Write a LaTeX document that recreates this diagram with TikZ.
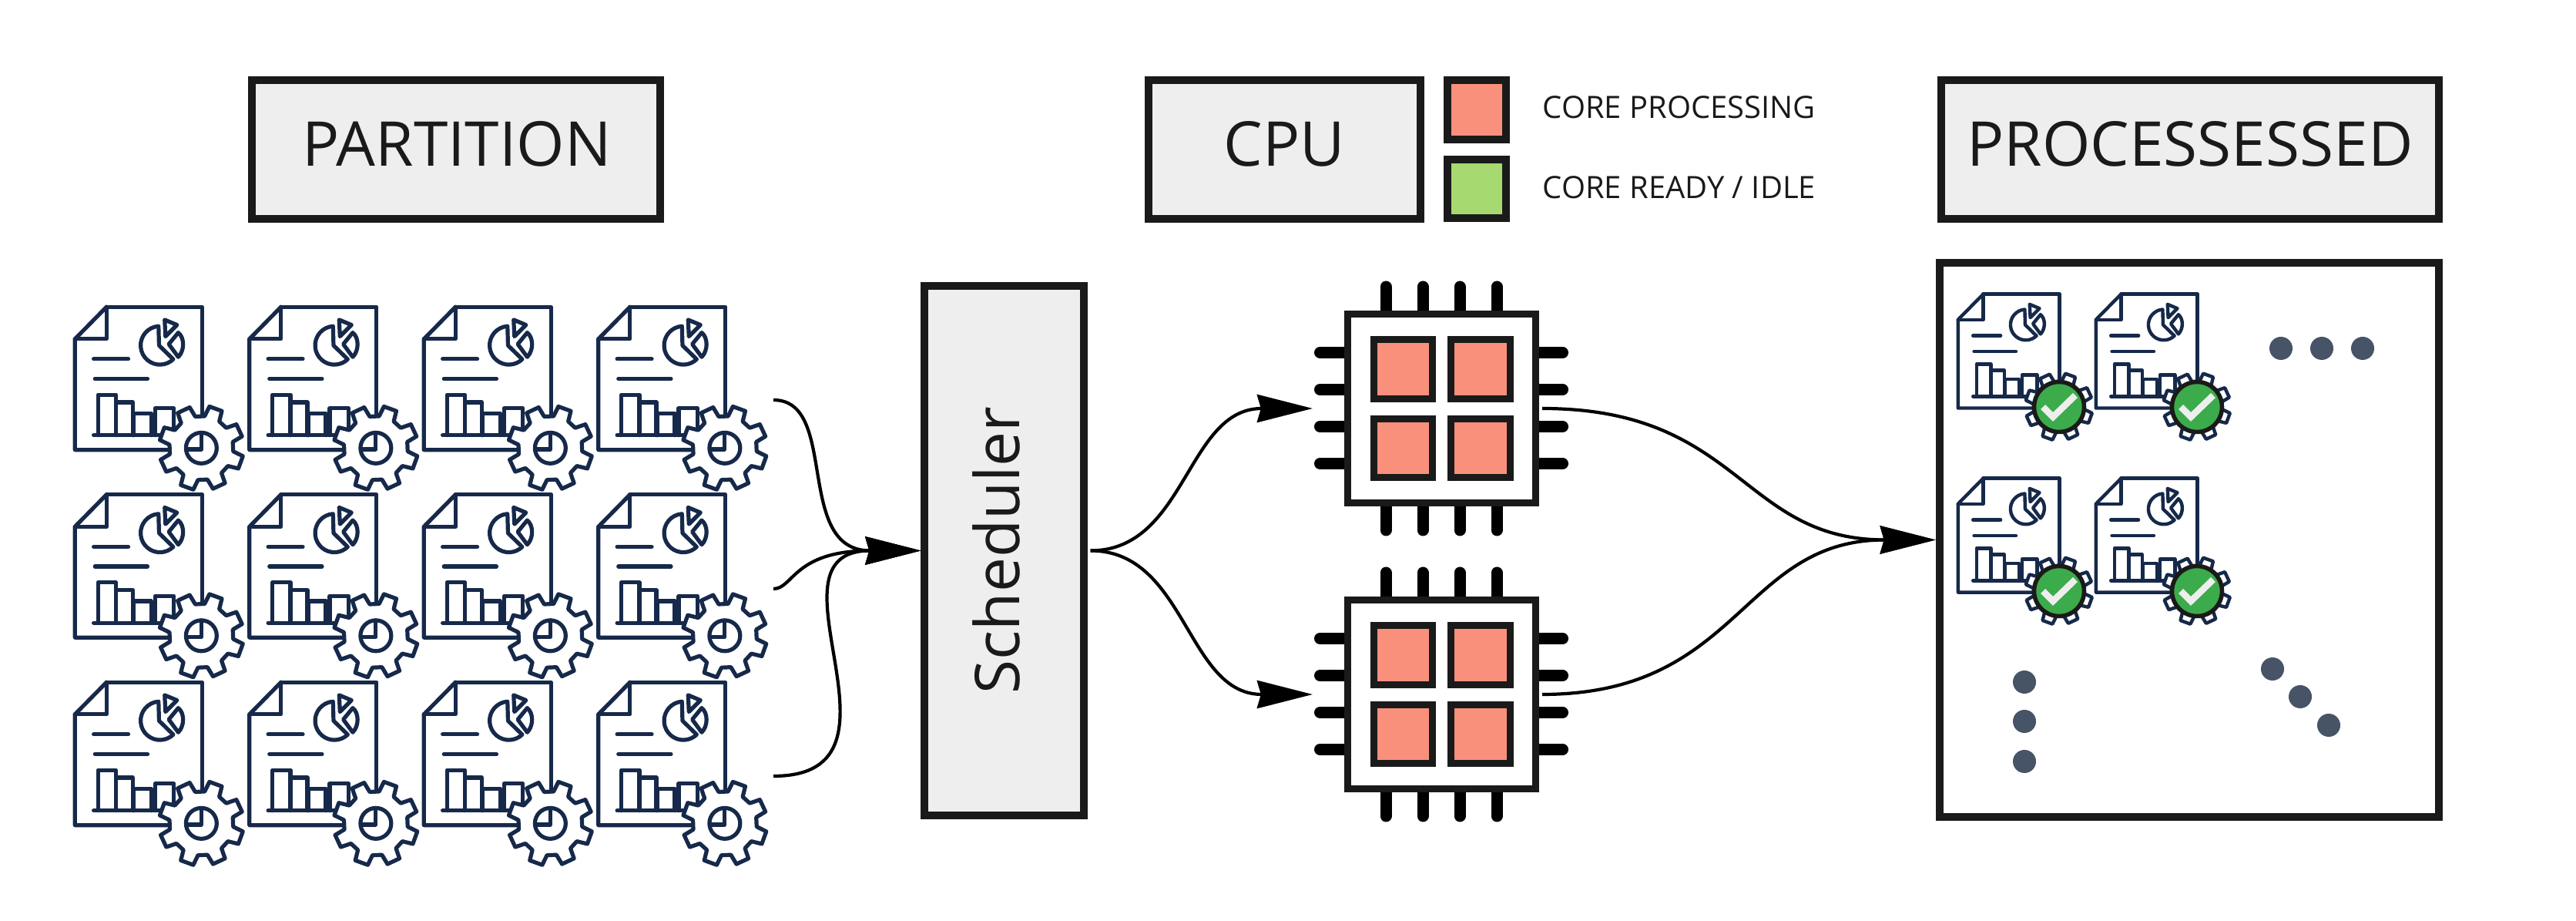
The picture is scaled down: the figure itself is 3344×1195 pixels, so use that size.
\documentclass[tikz,border=0pt]{standalone}
\usepackage{fontspec}
\setmainfont{Open Sans}
\usetikzlibrary{arrows.meta,calc}
\definecolor{inkc}{HTML}{1A1A1A}
\definecolor{navy}{HTML}{16294A}
\definecolor{boxgray}{HTML}{EEEEEE}
\definecolor{corered}{HTML}{F9907C}
\definecolor{coregreen}{HTML}{A6D96F}
\definecolor{checkgreen}{HTML}{3CAB4B}
\definecolor{dotc}{HTML}{475467}
\tikzset{
  heavybox/.style={draw=inkc,line width=0.1cm,inner sep=0pt,fill=boxgray},
  titlefont/.style={font=\fontsize{22.8}{27}\selectfont,text=inkc},
  legendfont/.style={font=\fontsize{11.35}{14}\selectfont,text=inkc},
  chipbody/.style={draw=inkc,line width=0.09cm,fill=white,inner sep=0pt,minimum width=2.44cm,minimum height=2.45cm},
  corebox/.style={draw=inkc,line width=0.09cm,fill=corered,inner sep=0pt,minimum size=0.76cm},
  pin/.style={line width=0.15cm,line cap=round,black},
  flow/.style={line width=0.042cm,black,-{Stealth[length=0.72cm,width=0.36cm,inset=0.05cm]}},
  dotmark/.style={circle,fill=dotc,inner sep=0pt,minimum size=0.3cm},
  iconline/.style={draw=navy,line join=round,line cap=round},
}
% doc icon: x y unit(cm) linewidth(cm)
\newcommand{\docicon}[5]{%
\begin{scope}[shift={(#1,#2)},x=#3cm,y=-#3cm,iconline,line width=#4cm]
  \draw (175,55)--(548,55)--(548,480);
  \draw (420,612)--(52,612)--(52,180)--(175,55);
  \draw (175,55)--(175,180)--(52,180);
  \draw (125,258)--(260,258);
  \draw (130,335)--(335,335);
  \draw (142,555)--(142,397)--(212,397)--(212,555);
  \draw (212,427)--(278,427)--(278,555);
  \draw (282,555)--(282,470)--(350,470)--(350,555);
  \draw (365,555)--(365,450)--(438,450)--(438,555);
  \draw (125,555)--(400,555);
  \draw (378,130) arc[start angle=-94,end angle=-314,radius=75] -- (380,205) -- cycle;
  \draw (402,105)--(450,125)--(405,170)--cycle;
  \draw (418,200)--(455,155) .. controls (480,175) and (480,225) .. (455,250) -- cycle;
  \draw[fill=white,shift={(545,605)}] (6:125)
    \foreach \a in {20,65,...,335}{ -- (\a-14:125) -- (\a-9:165) -- (\a+9:165) -- (\a+14:125)} -- cycle;
  #5
\end{scope}}
\newcommand{\pinset}[2]{%
\begin{scope}[shift={(#1,#2)}]
  \foreach \d in {-72.5,-24.5,23.5,71.5}{
    \draw[pin] (\d,-158) -- (\d,-127);
    \draw[pin] (\d,127) -- (\d,158);
    \draw[pin] (-158,\d) -- (-127,\d);
    \draw[pin] (127,\d) -- (157,\d);
  }
\end{scope}}
\begin{document}
\begin{tikzpicture}[x=0.01cm,y=-0.01cm]
\useasboundingbox (0,0) rectangle (3344,1195);
% header boxes
\node[heavybox,minimum width=5.29cm,minimum height=1.79cm] (partition) at (592,194) {};
\node[heavybox,minimum width=3.52cm,minimum height=1.79cm] (cpu) at (1667.5,194) {};
\node[heavybox,minimum width=6.46cm,minimum height=1.79cm] (processed) at (2843,194) {};
\node[titlefont,inner sep=0pt] (partitiontext) at (593,187) {PARTITION};
\node[titlefont,inner sep=0pt] (cputext) at (1667.5,187) {CPU};
\node[titlefont,inner sep=0pt] (processedtext) at (2843,187) {PROCESSESSED};
\node[heavybox,fill=corered,minimum width=0.75cm,minimum height=0.76cm] (legred) at (1917,142.5) {};
\node[heavybox,fill=coregreen,minimum width=0.75cm,minimum height=0.75cm] (leggreen) at (1917,245) {};
\node[legendfont,anchor=west,inner sep=0pt] (legredtext) at (2002,139) {CORE PROCESSING};
\node[legendfont,anchor=west,inner sep=0pt] (leggreentext) at (2002,243) {CORE READY / IDLE};
% documents
\foreach \c in {0,1,2,3}{
  \foreach \r in {0,1,2}{
    \docicon{80+226.5*\c}{380+243.5*\r}{0.003333}{0.052}{
      \draw[shift={(545,605)}] (0,0) circle[radius=60];
      \draw (545,545) -- (545,610) -- (490,610);
    }
  }
}
% scheduler
\node[heavybox,minimum width=2.06cm,minimum height=6.86cm] (sched) at (1303.5,714.5) {};
\node[titlefont,rotate=90,inner sep=0pt] (schedtext) at (1293,714) {Scheduler};
% chips
\pinset{1871.5}{530}
\pinset{1871.5}{901}
\node[chipbody] (chipa) at (1871.5,530) {};
\node[chipbody] (chipb) at (1871.5,901) {};
\foreach \n/\y in {a/530,b/901}{
  \node[corebox] (core\n1) at (1821.5,\y-51) {};
  \node[corebox] (core\n2) at (1922,\y-51) {};
  \node[corebox] (core\n3) at (1821.5,\y+51.5) {};
  \node[corebox] (core\n4) at (1922,\y+51.5) {};
}
% processed panel
\node[heavybox,fill=white,minimum width=6.48cm,minimum height=7.18cm] (panel) at (2842,700.5) {};
\foreach \c in {0,1}{
  \foreach \r in {0,1}{
    \docicon{2528+179*\c}{367+239*\r}{0.002653}{0.044}{}
    \begin{scope}[shift={(2673+179*\c,528+239*\r)}]
      \draw[draw=inkc,line width=0.055cm,fill=checkgreen] (0,0) circle[radius=32.5];
      \draw[boxgray,line width=0.085cm,miter limit=10] (-21,0) -- (-8,13) -- (21,-15);
    \end{scope}
  }
}
\node[dotmark] (d1) at (2961,452) {};
\node[dotmark] (d2) at (3014,452) {};
\node[dotmark] (d3) at (3067,452) {};
\node[dotmark] (d4) at (2628,885) {};
\node[dotmark] (d5) at (2628,936) {};
\node[dotmark] (d6) at (2628,988) {};
\node[dotmark] (d7) at (2950,868) {};
\node[dotmark] (d8) at (2986,904) {};
\node[dotmark] (d9) at (3023,941) {};
% connectors
\coordinate (t1) at (1004,519);
\coordinate (t2) at (1004,764);
\coordinate (t3) at (1004,1007);
\draw[flow] (t1) .. controls (1090,519) and (1030,714.5) .. (sched.west);
\draw[flow] (t2) .. controls (1030,764) and (1030,714.5) .. (sched.west);
\draw[flow] (t3) .. controls (1200,1007) and (980,714.5) .. (sched.west);
\coordinate (ta) at ($(chipa.west)+(-41,0)$);
\coordinate (tb) at ($(chipb.west)+(-41,0)$);
\coordinate (sa) at ($(chipa.east)+(4,0)$);
\coordinate (sb) at ($(chipb.east)+(4,0)$);
\coordinate (so) at ($(sched.east)+(4,0)$);
\draw[flow] (so) .. controls (1540,714.5) and (1540,530) .. (ta);
\draw[flow] (so) .. controls (1540,714.5) and (1540,901) .. (tb);
\draw[flow] (sa) .. controls (2260,530) and (2260,700.5) .. (panel.west);
\draw[flow] (sb) .. controls (2260,901) and (2260,700.5) .. (panel.west);
\end{tikzpicture}
\end{document}
